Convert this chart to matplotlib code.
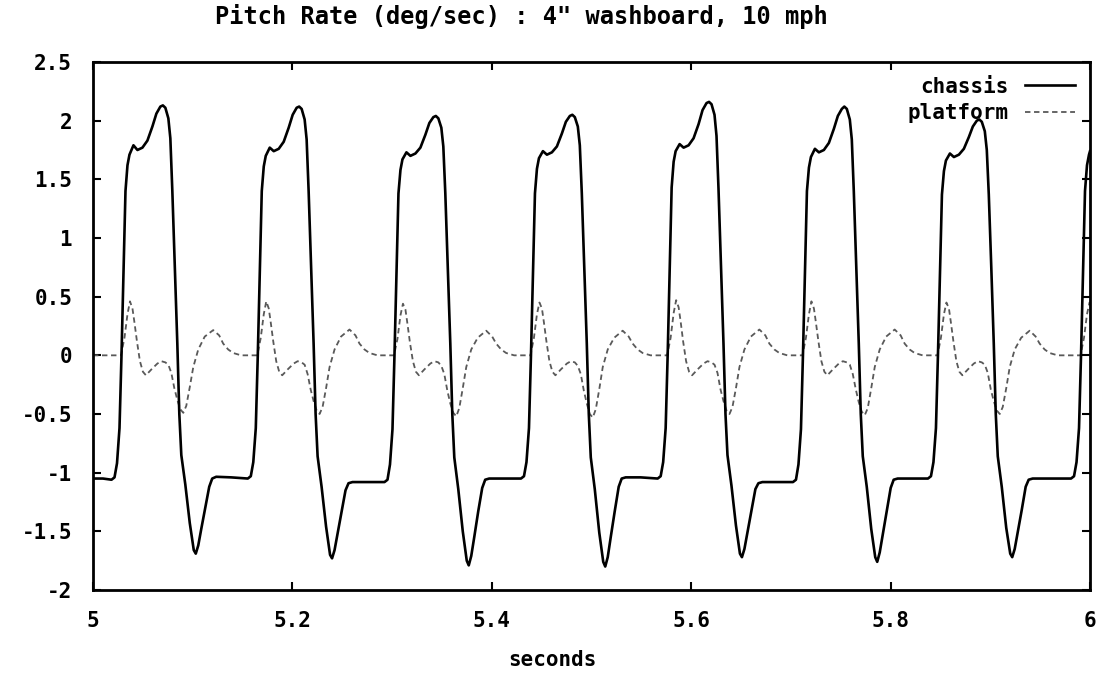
import numpy as np
import matplotlib.pyplot as plt

plt.rcParams['axes.unicode_minus'] = False
fonte = ['DejaVu Sans Mono']

# pitch rate do chassis (tempo em ms depois de t = 5 s)
chassis_ms = [
    0, 10, 18.6, 21.6, 24.1, 26.6, 28.6, 30.6, 32.6, 34.6, 36.6, 40.6, 44.6, 49.6, 54.6, 59.6, 63.6, 67.6,
    70.1, 72.6, 75.6, 77.6, 79.6, 82.1, 84.6, 86.6, 88.6, 92.6, 97.1, 101.1, 103.1, 105.6, 108.6, 112.6,
    116.6, 119.6, 123.6, 138.6,
    155.3, 158.3, 160.8, 163.3, 165.3, 167.3, 169.3, 171.3, 173.3, 177.3, 181.3, 186.3, 191.3, 196.3, 200.3,
    204.3, 206.8, 209.3, 212.3, 214.3, 216.3, 218.8, 221.3, 223.3, 225.3, 229.3, 233.8, 237.8, 239.8, 242.3,
    245.3, 249.3, 253.3, 256.3, 260.3, 275.3,
    292.4, 295.4, 297.9, 300.4, 302.4, 304.4, 306.4, 308.4, 310.4, 314.4, 318.4, 323.4, 328.4, 333.4, 337.4,
    341.4, 343.9, 346.4, 349.4, 351.4, 353.4, 355.9, 358.4, 360.4, 362.4, 366.4, 370.9, 374.9, 376.9, 379.4,
    382.4, 386.4, 390.4, 393.4, 397.4, 412.4,
    429.3, 432.3, 434.8, 437.3, 439.3, 441.3, 443.3, 445.3, 447.3, 451.3, 455.3, 460.3, 465.3, 470.3, 474.3,
    478.3, 480.8, 483.3, 486.3, 488.3, 490.3, 492.8, 495.3, 497.3, 499.3, 503.3, 507.8, 511.8, 513.8, 516.3,
    519.3, 523.3, 527.3, 530.3, 534.3, 549.3,
    566.4, 569.4, 571.9, 574.4, 576.4, 578.4, 580.4, 582.4, 584.4, 588.4, 592.4, 597.4, 602.4, 607.4, 611.4,
    615.4, 617.9, 620.4, 623.4, 625.4, 627.4, 629.9, 632.4, 634.4, 636.4, 640.4, 644.9, 648.9, 650.9, 653.4,
    656.4, 660.4, 664.4, 667.4, 671.4, 686.4,
    702.1, 705.1, 707.6, 710.1, 712.1, 714.1, 716.1, 718.1, 720.1, 724.1, 728.1, 733.1, 738.1, 743.1, 747.1,
    751.1, 753.6, 756.1, 759.1, 761.1, 763.1, 765.6, 768.1, 770.1, 772.1, 776.1, 780.6, 784.6, 786.6, 789.1,
    792.1, 796.1, 800.1, 803.1, 807.1, 822.1,
    837.5, 840.5, 843.0, 845.5, 847.5, 849.5, 851.5, 853.5, 855.5, 859.5, 863.5, 868.5, 873.5, 878.5, 882.5,
    886.5, 889.0, 891.5, 894.5, 896.5, 898.5, 901.0, 903.5, 905.5, 907.5, 911.5, 916.0, 920.0, 922.0, 924.5,
    927.5, 931.5, 935.5, 938.5, 942.5, 957.5,
    981.0, 984.0, 986.5, 989.0, 991.0, 993.0, 995.0, 997.0, 999.0, 1000.0]
chassis = [
    -1.05, -1.05, -1.06, -1.04, -0.92, -0.62, 0.0, 0.70, 1.40, 1.62, 1.71, 1.79, 1.75, 1.77, 1.83, 1.95, 2.06, 2.12,
    2.13, 2.11, 2.02, 1.85, 1.40, 0.75, 0.10, -0.50, -0.85, -1.10, -1.43, -1.66, -1.69, -1.62, -1.48, -1.30,
    -1.12, -1.05, -1.035, -1.04,
    -1.05, -1.03, -0.91, -0.62, 0.0, 0.70, 1.40, 1.61, 1.70, 1.77, 1.74, 1.76, 1.82, 1.94, 2.05,
    2.11, 2.12, 2.10, 2.01, 1.84, 1.40, 0.75, 0.10, -0.50, -0.86, -1.12, -1.46, -1.70, -1.73, -1.66,
    -1.52, -1.33, -1.15, -1.09, -1.08, -1.08,
    -1.08, -1.06, -0.93, -0.63, 0.0, 0.70, 1.38, 1.58, 1.67, 1.73, 1.70, 1.72, 1.77, 1.88, 1.98,
    2.03, 2.04, 2.02, 1.94, 1.78, 1.38, 0.75, 0.10, -0.50, -0.87, -1.14, -1.50, -1.75, -1.79, -1.71,
    -1.55, -1.33, -1.13, -1.06, -1.05, -1.05,
    -1.05, -1.03, -0.91, -0.62, 0.0, 0.70, 1.38, 1.59, 1.68, 1.74, 1.71, 1.73, 1.78, 1.89, 1.99,
    2.04, 2.05, 2.03, 1.95, 1.79, 1.38, 0.75, 0.10, -0.50, -0.87, -1.14, -1.51, -1.76, -1.80, -1.72,
    -1.55, -1.33, -1.12, -1.05, -1.04, -1.04,
    -1.05, -1.03, -0.91, -0.62, 0.0, 0.72, 1.43, 1.65, 1.74, 1.80, 1.77, 1.79, 1.85, 1.97, 2.09,
    2.15, 2.16, 2.14, 2.05, 1.87, 1.42, 0.75, 0.10, -0.50, -0.85, -1.11, -1.45, -1.69, -1.72, -1.65,
    -1.51, -1.32, -1.14, -1.09, -1.08, -1.08,
    -1.08, -1.06, -0.93, -0.63, 0.0, 0.70, 1.40, 1.60, 1.69, 1.76, 1.73, 1.75, 1.81, 1.93, 2.04,
    2.10, 2.12, 2.10, 2.01, 1.84, 1.40, 0.75, 0.10, -0.50, -0.86, -1.12, -1.48, -1.72, -1.76, -1.68,
    -1.53, -1.33, -1.13, -1.06, -1.05, -1.05,
    -1.05, -1.03, -0.91, -0.62, 0.0, 0.70, 1.37, 1.57, 1.66, 1.72, 1.69, 1.71, 1.76, 1.86, 1.95,
    2.00, 2.01, 1.99, 1.91, 1.75, 1.37, 0.75, 0.10, -0.50, -0.86, -1.12, -1.47, -1.69, -1.72, -1.65,
    -1.51, -1.32, -1.12, -1.06, -1.05, -1.05,
    -1.05, -1.03, -0.91, -0.62, 0.0, 0.70, 1.40, 1.62, 1.71, 1.74]

# pitch rate da plataforma
platform_ms = [
    0, 25.6, 28.1, 31.6, 34.6, 37.1, 39.6, 41.6, 44.1, 47.1, 50.1, 53.1, 58.6, 64.6, 68.6, 72.6, 75.6, 78.6,
    81.6, 84.6, 87.6, 90.6, 93.6, 97.1, 100.6, 105.6, 112.1, 120.6, 126.6, 130.6, 135.6, 140.6, 148.6,
    162.3, 164.8, 168.3, 171.3, 173.8, 176.3, 178.3, 180.8, 183.8, 186.8, 189.8, 195.3, 201.3, 205.3, 209.3,
    212.3, 215.3, 218.3, 221.3, 224.3, 227.3, 230.3, 233.8, 237.3, 242.3, 248.8, 257.3, 263.3, 267.3, 272.3,
    277.3, 285.3,
    299.4, 301.9, 305.4, 308.4, 310.9, 313.4, 315.4, 317.9, 320.9, 323.9, 326.9, 332.4, 338.4, 342.4, 346.4,
    349.4, 352.4, 355.4, 358.4, 361.4, 364.4, 367.4, 370.9, 374.4, 379.4, 385.9, 394.4, 400.4, 404.4, 409.4,
    414.4, 422.4,
    436.3, 438.8, 442.3, 445.3, 447.8, 450.3, 452.3, 454.8, 457.8, 460.8, 463.8, 469.3, 475.3, 479.3, 483.3,
    486.3, 489.3, 492.3, 495.3, 498.3, 501.3, 504.3, 507.8, 511.3, 516.3, 522.8, 531.3, 537.3, 541.3, 546.3,
    551.3, 559.3,
    573.4, 575.9, 579.4, 582.4, 584.9, 587.4, 589.4, 591.9, 594.9, 597.9, 600.9, 606.4, 612.4, 616.4, 620.4,
    623.4, 626.4, 629.4, 632.4, 635.4, 638.4, 641.4, 644.9, 648.4, 653.4, 659.9, 668.4, 674.4, 678.4, 683.4,
    688.4, 696.4,
    709.1, 711.6, 715.1, 718.1, 720.6, 723.1, 725.1, 727.6, 730.6, 733.6, 736.6, 742.1, 748.1, 752.1, 756.1,
    759.1, 762.1, 765.1, 768.1, 771.1, 774.1, 777.1, 780.6, 784.1, 789.1, 795.6, 804.1, 810.1, 814.1, 819.1,
    824.1, 832.1,
    844.5, 847.0, 850.5, 853.5, 856.0, 858.5, 860.5, 863.0, 866.0, 869.0, 872.0, 877.5, 883.5, 887.5, 891.5,
    894.5, 897.5, 900.5, 903.5, 906.5, 909.5, 912.5, 916.0, 919.5, 924.5, 931.0, 939.5, 945.5, 949.5, 954.5,
    959.5, 967.5,
    988.0, 990.5, 994.0, 997.0, 999.5, 1000.0]
platform = [
    0.0, 0.0, 0.0, 0.15, 0.35, 0.46, 0.40, 0.28, 0.12, -0.05, -0.14, -0.17, -0.12, -0.07, -0.05, -0.06, -0.08, -0.15,
    -0.28, -0.38, -0.46, -0.49, -0.43, -0.27, -0.10, 0.05, 0.16, 0.215, 0.17, 0.10, 0.05, 0.02, 0.0,
    0.0, 0.0, 0.15, 0.35, 0.46, 0.40, 0.28, 0.12, -0.05, -0.14, -0.17, -0.12, -0.07, -0.05, -0.06,
    -0.08, -0.16, -0.29, -0.39, -0.47, -0.50, -0.44, -0.28, -0.10, 0.05, 0.16, 0.22, 0.17, 0.10, 0.05,
    0.02, 0.0,
    0.0, 0.0, 0.14, 0.34, 0.44, 0.39, 0.27, 0.11, -0.05, -0.14, -0.17, -0.12, -0.07, -0.05, -0.06,
    -0.09, -0.16, -0.30, -0.41, -0.49, -0.52, -0.45, -0.28, -0.10, 0.05, 0.15, 0.21, 0.16, 0.10, 0.05,
    0.02, 0.0,
    0.0, 0.0, 0.15, 0.35, 0.45, 0.40, 0.28, 0.12, -0.05, -0.14, -0.17, -0.12, -0.07, -0.05, -0.06,
    -0.09, -0.16, -0.30, -0.41, -0.50, -0.53, -0.46, -0.29, -0.10, 0.05, 0.15, 0.21, 0.16, 0.10, 0.05,
    0.02, 0.0,
    0.0, 0.0, 0.15, 0.36, 0.47, 0.41, 0.29, 0.12, -0.05, -0.14, -0.17, -0.12, -0.07, -0.05, -0.06,
    -0.08, -0.15, -0.29, -0.39, -0.47, -0.50, -0.44, -0.28, -0.10, 0.05, 0.16, 0.22, 0.17, 0.10, 0.05,
    0.02, 0.0,
    0.0, 0.0, 0.15, 0.35, 0.46, 0.40, 0.28, 0.12, -0.05, -0.14, -0.17, -0.12, -0.07, -0.05, -0.06,
    -0.08, -0.16, -0.29, -0.40, -0.48, -0.51, -0.45, -0.28, -0.10, 0.05, 0.16, 0.22, 0.17, 0.10, 0.05,
    0.02, 0.0,
    0.0, 0.0, 0.15, 0.35, 0.45, 0.40, 0.28, 0.12, -0.05, -0.14, -0.17, -0.12, -0.07, -0.05, -0.06,
    -0.08, -0.15, -0.29, -0.39, -0.47, -0.50, -0.44, -0.28, -0.10, 0.05, 0.15, 0.21, 0.16, 0.10, 0.05,
    0.02, 0.0,
    0.0, 0.0, 0.15, 0.35, 0.45, 0.45]

xticks = [5, 5.2, 5.4, 5.6, 5.8, 6]
xlabels = ['5', '5.2', '5.4', '5.6', '5.8', '6']
yticks = [-2, -1.5, -1, -0.5, 0, 0.5, 1, 1.5, 2, 2.5]
ylabels = ['-2', '-1.5', '-1', '-0.5', '0', '0.5', '1', '1.5', '2', '2.5']

t_chassis = 5 + np.array(chassis_ms) / 1000.0
t_platform = 5 + np.array(platform_ms) / 1000.0

fig = plt.figure(figsize=(10.99, 6.73), dpi=100)
ax = fig.add_axes([0.0846, 0.1233, 0.9072, 0.7846])

ax.plot(t_platform, platform, color='0.35', lw=1.3, dashes=(3, 2), label='platform')
ax.plot(t_chassis, chassis, color='black', lw=1.9, label='chassis')

ax.set_xlim(5, 6)
ax.set_ylim(-2, 2.5)
ax.set_xticks(xticks)
ax.set_xticklabels(xlabels)
ax.set_yticks(yticks)
ax.set_yticklabels(ylabels)
ax.tick_params(direction='in', length=6, width=1.5, top=True, right=True,
               labelsize=15, pad=15)
for lab in ax.get_xticklabels() + ax.get_yticklabels():
    lab.set_family(fonte)
    lab.set_fontweight('bold')
for s in ax.spines.values():
    s.set_linewidth(2)

fig.text(0.474, 0.975, 'Pitch Rate (deg/sec) : 4" washboard, 10 mph', ha='center', va='center',
         family=fonte, fontweight='bold', fontsize=17)
fig.text(0.503, 0.02, 'seconds', ha='center', va='center', family=fonte,
         fontweight='bold', fontsize=15)

h, l = ax.get_legend_handles_labels()
leg = ax.legend(h[::-1], l[::-1], loc='upper right', markerfirst=False, frameon=False,
                handlelength=2.4, handletextpad=0.8, labelspacing=0.3, borderaxespad=0.3,
                prop={'family': fonte, 'weight': 'bold', 'size': 15})

fig.savefig('out.png', dpi=100)
